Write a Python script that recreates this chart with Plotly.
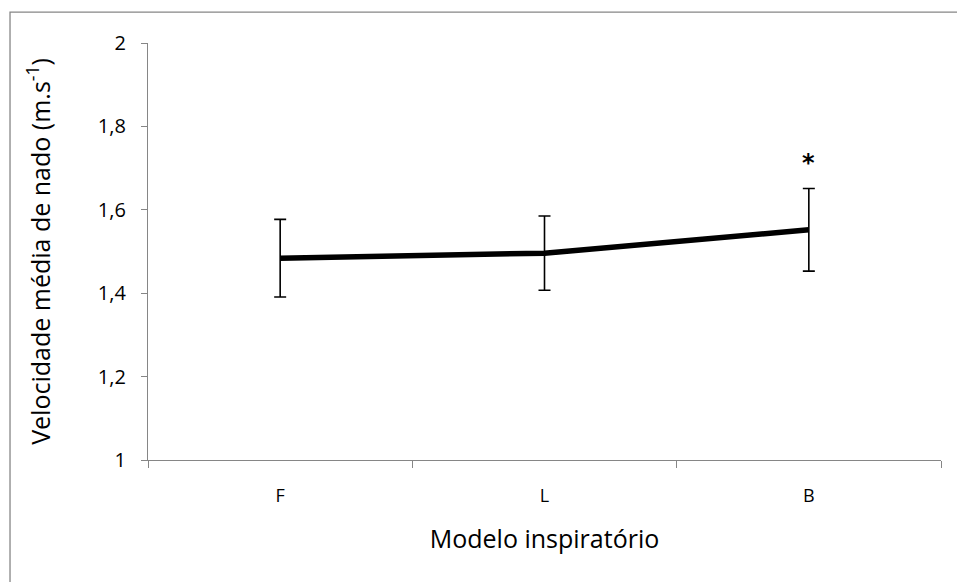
import plotly.graph_objects as go

categories = ["F", "L", "B"]
mean_speed = [1.484, 1.496, 1.552]
sd_speed = [0.093, 0.089, 0.099]
y_ticks = [1, 1.2, 1.4, 1.6, 1.8, 2]
y_tick_labels = ["1", "1,2", "1,4", "1,6", "1,8", "2"]
marked = ["B"]
marked_y = [1.712]

FONT = "'Open Sans', Lato, sans-serif"
AXIS = "#868686"

fig = go.Figure()
fig.add_trace(go.Scatter(
    x=categories, y=mean_speed, mode="lines",
    line=dict(color="black", width=5.5),
    error_y=dict(type="data", array=sd_speed, visible=True,
                 color="black", thickness=1.6, width=6),
    showlegend=False, hoverinfo="skip"))

for c, yv in zip(marked, marked_y):
    fig.add_annotation(x=c, y=yv, text="<b>*</b>", showarrow=False,
                       font=dict(size=24, color="black", family="DejaVu Sans"))

# outer chart frame (Excel style)
fig.add_shape(type="rect", xref="paper", yref="paper",
              x0=-0.174, x1=1.2, y0=-0.5, y1=1.074,
              line=dict(color=AXIS, width=1.3), layer="below")

fig.update_layout(
    width=957, height=582,
    margin=dict(l=148, r=16, t=43, b=122),
    paper_bgcolor="white", plot_bgcolor="white",
    separators=", ",
    font=dict(family=FONT, color="black"),
    xaxis=dict(
        type="category", showgrid=False, zeroline=False,
        showline=True, linecolor=AXIS, linewidth=1.3,
        ticks="outside", tickson="boundaries", ticklen=7,
        tickcolor=AXIS, tickwidth=1.3,
        tickfont=dict(size=18, family=FONT),
        ticklabelstandoff=19,
        title=dict(text="Modelo inspiratório", font=dict(size=25, family=FONT), standoff=24),
        range=[-0.5, 2.5],
    ),
    yaxis=dict(
        range=[1, 2], showgrid=False, zeroline=False,
        showline=True, linecolor=AXIS, linewidth=1.3,
        ticks="outside", ticklen=6, tickcolor=AXIS, tickwidth=1.3,
        tickvals=y_ticks, ticktext=y_tick_labels,
        tickfont=dict(size=20, family=FONT),
        ticklabelstandoff=11,
        title=dict(text="Velocidade média de nado (m.s<sup>-1</sup>)",
                   font=dict(size=25, family=FONT), standoff=40),
    ),
)

fig.write_html("out.html", config={"displayModeBar": False},
               post_script="document.body.style.margin='0';document.body.style.overflow='hidden';")
